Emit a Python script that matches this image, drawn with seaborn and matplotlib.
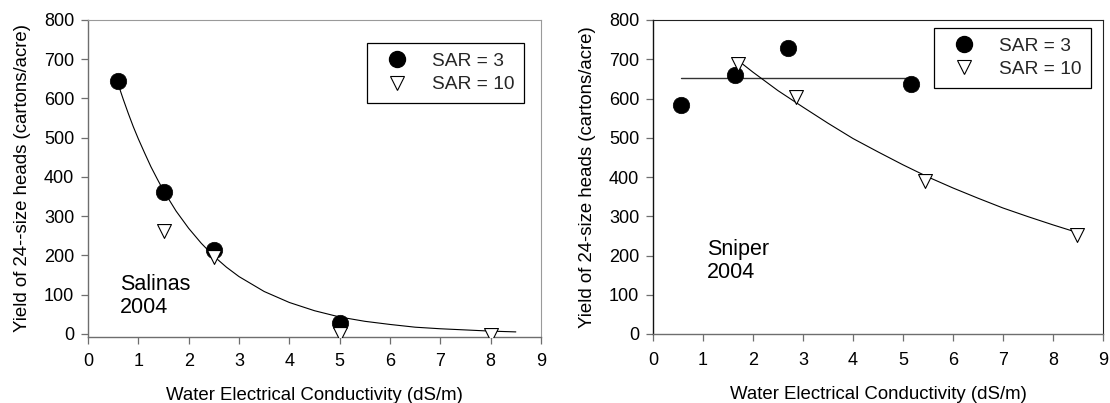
import numpy as np
import pandas as pd
import matplotlib
matplotlib.use("Agg")
import matplotlib.pyplot as plt
import seaborn as sns
from matplotlib.lines import Line2D

# ---------------- data ----------------
x_ticks = [0, 1, 2, 3, 4, 5, 6, 7, 8, 9]
y_ticks = [0, 100, 200, 300, 400, 500, 600, 700, 800]

# Salinas 2004
sal_sar3_x = [0.6, 1.5, 2.5, 5.0]
sal_sar3_y = [645, 362, 215, 28]
sal_sar10_x = [1.5, 2.5, 5.0, 8.0]
sal_sar10_y = [262, 195, 0, -2]
sal_curve_x = [0.6, 0.7, 0.8, 0.9, 1.0, 1.125, 1.25, 1.375, 1.5, 1.75, 2.0, 2.25, 2.5,
               2.75, 3.0, 3.5, 4.0, 4.5, 5.0, 5.5, 6.0, 6.5, 7.0, 7.5, 8.0, 8.5]
sal_curve_y = [636, 598, 562, 528, 497, 461, 426, 395, 365, 313, 269, 231, 198,
               170, 146, 108, 80, 59, 43, 32, 24, 17, 13, 10, 7, 5]

# Sniper 2004
sni_sar3_x = [0.55, 1.64, 2.69, 5.16]
sni_sar3_y = [584, 661, 729, 636]
sni_sar10_x = [1.70, 2.86, 5.43, 8.48]
sni_sar10_y = [687, 605, 391, 252]
sni_mean_x = [0.55, 5.16]
sni_mean_y = [652, 652]
sni_curve_x = [1.75, 2.0, 2.5, 3.0, 3.5, 4.0, 4.5, 5.0, 5.5, 6.0, 6.5, 7.0, 7.5, 8.0, 8.5]
sni_curve_y = [692, 667, 620, 578, 537, 498, 464, 431, 400, 372, 346, 321, 299, 278, 258]

legend_labels = ["SAR = 3", "SAR = 10"]
x_label = "Water Electrical Conductivity (dS/m)"
y_label_left = "Yield of 24--size heads (cartons/acre)"
y_label_right = "Yield of 24-size heads (cartons/acre)"

# ---------------- style ----------------
sns.set_theme(style="white")
plt.rcParams["font.family"] = ["Liberation Sans", "DejaVu Sans"]

W, H = 1110, 403
fig = plt.figure(figsize=(W / 100, H / 100), dpi=100)

def frac(x0, x1, ytop, ybot):
    return [x0 / W, (H - ybot) / H, (x1 - x0) / W, (ybot - ytop) / H]

axL = fig.add_axes(frac(88, 541, 20, 337))
axR = fig.add_axes(frac(653, 1103, 20, 334))

TICK_FS = 13
LAB_FS = 13.4
LEG_FS = 13.8
ANN_FS = 15.5

def style_axes(ax, ylim, main_col, light_col, left_col, xpad):
    ax.set_xlim(0, 9)
    ax.set_ylim(*ylim)
    ax.set_xticks(x_ticks)
    ax.set_yticks(y_ticks)
    ax.tick_params(axis="both", which="major", direction="out", length=5,
                   width=0.9, color=main_col, labelsize=TICK_FS, pad=5,
                   labelcolor="black", bottom=True, left=True)
    ax.tick_params(axis="x", pad=xpad)
    ax.spines["bottom"].set_color(main_col)
    ax.spines["bottom"].set_linewidth(1.0)
    ax.spines["left"].set_color(left_col)
    ax.spines["left"].set_linewidth(1.0)
    for side in ["top", "right"]:
        ax.spines[side].set_color(light_col)
        ax.spines[side].set_linewidth(0.8)
    ax.set_xlabel(x_label, fontsize=LAB_FS, labelpad=12, color="black")
    ax.grid(False)

def scatter_points(ax, x3, y3, x10, y10):
    d3 = pd.DataFrame({"x": x3, "y": y3})
    d10 = pd.DataFrame({"x": x10, "y": y10})
    sns.scatterplot(data=d3, x="x", y="y", ax=ax, marker="o", s=140,
                    color="black", edgecolor="black", linewidth=0.5, zorder=4,
                    legend=False)
    sns.scatterplot(data=d10, x="x", y="y", ax=ax, marker="v", s=100,
                    color="white", edgecolor="black", linewidth=0.8, zorder=5,
                    legend=False)

def add_legend(ax, anchor):
    handles = [
        Line2D([], [], linestyle="none", marker="o", markersize=11.5,
               markerfacecolor="black", markeredgecolor="black"),
        Line2D([], [], linestyle="none", marker="v", markersize=10,
               markerfacecolor="white", markeredgecolor="black", markeredgewidth=0.8),
    ]
    leg = ax.legend(handles, legend_labels, loc="upper right", bbox_to_anchor=anchor,
                    bbox_transform=ax.transAxes, borderaxespad=0, frameon=True,
                    fancybox=False, shadow=False, framealpha=1, edgecolor="black",
                    fontsize=LEG_FS, borderpad=0.5, handlelength=2.2,
                    handletextpad=0.7, labelspacing=0.3)
    leg.get_frame().set_linewidth(0.9)
    leg.set_zorder(10)

# ---------------- left panel: Salinas ----------------
sns.lineplot(x=sal_curve_x, y=sal_curve_y, ax=axL, color="black", linewidth=0.8,
             sort=False, estimator=None, zorder=3)
scatter_points(axL, sal_sar3_x, sal_sar3_y, sal_sar10_x, sal_sar10_y)
style_axes(axL, (-8, 800), "#6e6e6e", "#9a9a9a", "#6e6e6e", xpad=6.5)
axL.set_ylabel(y_label_left, fontsize=LAB_FS, labelpad=9, color="black")
axL.text(0.64, 153, "Salinas\n2004", fontsize=ANN_FS, ha="left", va="top",
         linespacing=1.15, color="black")
add_legend(axL, (0.962, 0.927))

# ---------------- right panel: Sniper ----------------
sns.lineplot(x=sni_mean_x, y=sni_mean_y, ax=axR, color="#333333", linewidth=1.0,
             sort=False, estimator=None, zorder=3)
sns.lineplot(x=sni_curve_x, y=sni_curve_y, ax=axR, color="black", linewidth=0.8,
             sort=False, estimator=None, zorder=3)
scatter_points(axR, sni_sar3_x, sni_sar3_y, sni_sar10_x, sni_sar10_y)
style_axes(axR, (0, 800), "#6e6e6e", "#222222", "#111111", xpad=8)
axR.set_ylabel(y_label_right, fontsize=LAB_FS, labelpad=9, color="black")
axR.text(1.08, 243, "Sniper\n2004", fontsize=ANN_FS, ha="left", va="top",
         linespacing=1.15, color="black")
add_legend(axR, (0.973, 0.975))

fig.savefig("out.png", dpi=100, facecolor="white")
